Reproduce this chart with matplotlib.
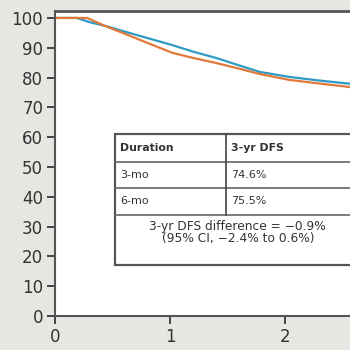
import matplotlib.pyplot as plt
from matplotlib.patches import Rectangle

# survival curves (years, % disease free)
t_6mo = [0, 0.19, 0.30, 0.45, 0.60, 0.80, 1.02, 1.20, 1.40, 1.60, 1.78, 2.04, 2.30, 2.57]
dfs_6mo = [100, 100, 98.6, 97.2, 95.5, 93.3, 90.9, 88.7, 86.6, 84.1, 81.9, 80.2, 79.0, 77.9]
t_3mo = [0, 0.28, 0.43, 0.60, 0.80, 1.02, 1.20, 1.40, 1.60, 1.78, 2.04, 2.30, 2.57]
dfs_3mo = [100, 100, 97.4, 94.8, 91.7, 88.3, 86.6, 84.9, 83.0, 81.2, 79.2, 78.0, 76.8]

yticks = [0, 10, 20, 30, 40, 50, 60, 70, 80, 90, 100]
xticks = [0, 1, 2]

header = ["Duration", "3-yr DFS"]
rows = [["3-mo", "74.6%"], ["6-mo", "75.5%"]]
note = "3-yr DFS difference = \u22120.9%\n(95% CI, \u22122.4% to 0.6%)"

blue = '#2f9ac3'
orange = '#e2793a'
ink = '#333333'

fig = plt.figure(figsize=(3.5, 3.5), dpi=100, facecolor='#e8e6e2')
ax = fig.add_axes([0.157, 0.097, 0.843, 0.873])
ax.set_facecolor('white')

ax.plot(t_6mo, dfs_6mo, color=blue, lw=1.6, zorder=3)
ax.plot(t_3mo, dfs_3mo, color=orange, lw=1.6, zorder=4)

ax.set_xlim(0, 2.565)
ax.set_ylim(0, 102.5)
ax.set_yticks(yticks)
ax.set_xticks(xticks)
ax.tick_params(axis='both', length=5.5, width=1.4, color='#444444', labelsize=12,
               labelcolor=ink, pad=3)
for s in ['left', 'bottom', 'top']:
    ax.spines[s].set_color('#555555')
    ax.spines[s].set_linewidth(1.5)
ax.spines['top'].set_linewidth(2)
ax.spines['right'].set_visible(False)
for s in ['left', 'bottom']:
    ax.spines[s].set_zorder(5)

# inset table
x0, x1, xm = 0.52, 2.68, 1.487
y_top, y_h, y_r1, y_r2, y_bot = 61.0, 51.7, 43.0, 33.9, 17.1
ax.add_patch(Rectangle((x0, y_bot), x1 - x0, y_top - y_bot, facecolor='white',
                       edgecolor='#555555', lw=1.6, zorder=6, clip_on=True))
for yy in [y_h, y_r1, y_r2]:
    ax.plot([x0, x1], [yy, yy], color='#666666', lw=1.2, zorder=7)
ax.plot([xm, xm], [y_r2, y_top], color='#444444', lw=1.2, zorder=7)

ax.text(x0 + 0.045, (y_top + y_h) / 2, header[0], fontsize=7.8, fontweight='bold',
        color=ink, va='center', zorder=8)
ax.text(xm + 0.045, (y_top + y_h) / 2, header[1], fontsize=7.8, fontweight='bold',
        color=ink, va='center', zorder=8)
row_y = [(y_h + y_r1) / 2, (y_r1 + y_r2) / 2]
for (d, v), yy in zip(rows, row_y):
    ax.text(x0 + 0.045, yy, d, fontsize=8, color=ink, va='center', zorder=8)
    ax.text(xm + 0.045, yy, v, fontsize=8, color=ink, va='center', zorder=8)
ax.text(1.59, 28.0, note, fontsize=8.8, color=ink, ha='center', va='center',
        linespacing=0.95, zorder=8)

fig.savefig('out.png', dpi=100, facecolor=fig.get_facecolor())
